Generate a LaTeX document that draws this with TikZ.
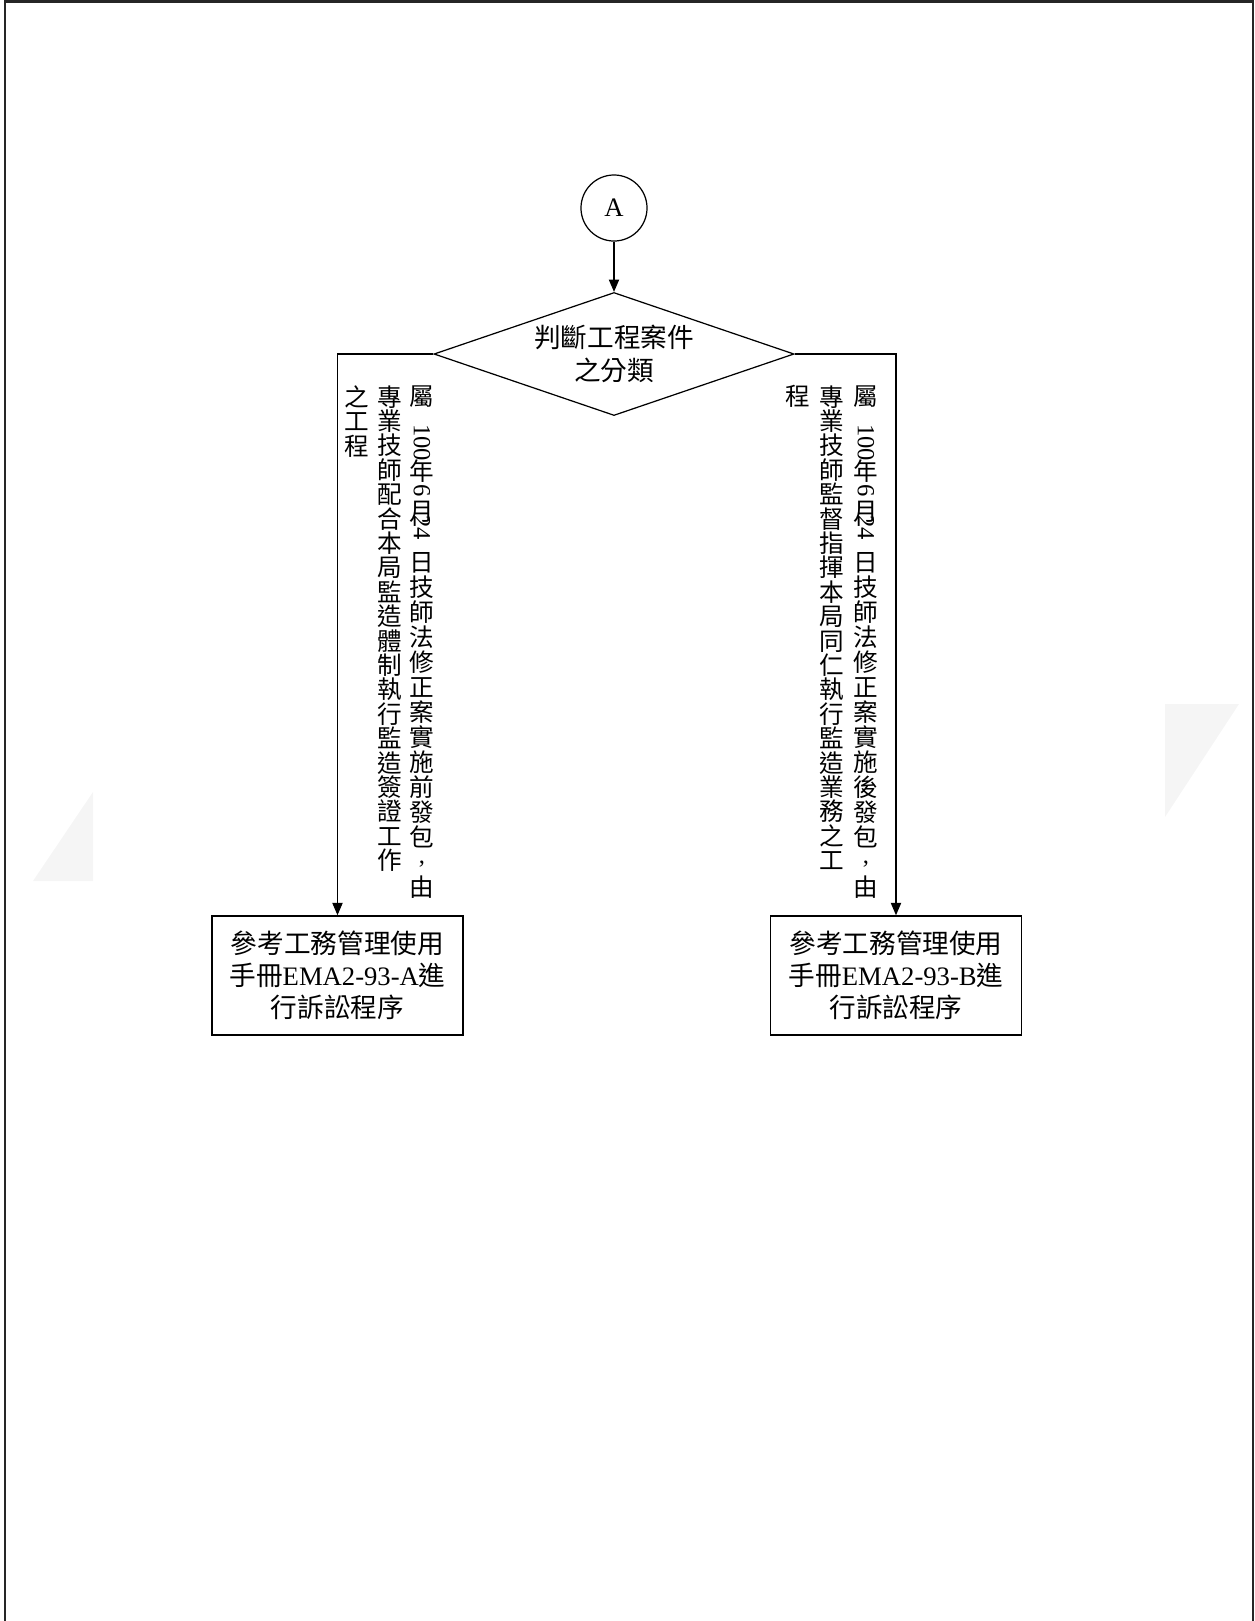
\documentclass[tikz,border=0pt]{standalone}
\usepackage{fontspec}
\setmainfont{Liberation Serif}
\newfontfamily\cjk{Noto Sans CJK TC}
\usepackage{graphicx}
\usetikzlibrary{shapes.geometric}
\usetikzlibrary{arrows.meta}
\newcommand{\rdig}[2]{\raisebox{#1}[0pt][0pt]{\rotatebox{-90}{\rmfamily #2}}}
\newcommand{\vcomma}{\raisebox{4pt}{\rmfamily ,}}

\begin{document}
\begin{tikzpicture}[x=0.48765pt,y=-0.48765pt,
  flow/.style={draw,line width=0.5pt,-{Triangle[length=6pt,width=5pt]}},
  vcol/.style={anchor=north,align=center,inner sep=0pt,font=\cjk\fontsize{12pt}{11.9pt}\selectfont},
  vcolwide/.style={vcol,font=\cjk\fontsize{12pt}{12.2pt}\selectfont},
  casebox/.style={draw,line width=0.8pt,minimum width=122.4pt,minimum height=58pt,inner sep=0pt,align=center,font=\cjk\fontsize{13pt}{15.6pt}\selectfont}]
\useasboundingbox (0,0) rectangle (1255,1621);

% page frame and faint marks
\draw[line width=1pt,black!85] (5,1621) -- (5,1.5) -- (1253,1.5) -- (1253,1621);
\fill[black!4] (33,881) -- (93,792) -- (93,881) -- cycle;
\fill[black!4] (1165,704) -- (1239,704) -- (1165,817) -- cycle;

\node[draw,circle,line width=0.6pt,minimum size=32.2pt,inner sep=0pt,font=\fontsize{13pt}{15pt}\selectfont] (conA) at (614,208) {A};
\node[draw,diamond,aspect=3,line width=0.6pt,minimum width=175.6pt,minimum height=60pt,inner sep=0pt,align=center,font=\cjk\fontsize{13pt}{16pt}\selectfont] (judge) at (614,354) {判斷工程案件\\之分類};

\node[casebox] (caseA) at (337.5,975.5) {參考工務管理使用\\手冊{\rmfamily EMA2-93-A}進\\行訴訟程序};
\node[casebox] (caseB) at (896,975.5) {參考工務管理使用\\手冊{\rmfamily EMA2-93-B}進\\行訴訟程序};

\draw[flow] (conA) -- (judge);
\draw[flow] (judge.west) -| (caseA);
\draw[flow] (judge.east) -| (caseB);

% vertical notes, left branch
\node[vcolwide] (noteA1) at (422,385) {屬\\[10.7pt]\rdig{13.56pt}{100}\\[1.5pt]年\\[-2.5pt]\rdig{7.56pt}{6}\\[-2.4pt]月\\[-3.9pt]\rdig{10.56pt}{24}\\[4.4pt]日\\技\\師\\法\\修\\正\\案\\實\\施\\前\\發\\包\\\vcomma\\由};
\node[vcol] (noteA2) at (390,385) {專\\業\\技\\師\\配\\合\\本\\局\\監\\造\\體\\制\\執\\行\\監\\造\\簽\\證\\工\\作};
\node[vcol] (noteA3) at (357,385) {之\\工\\程};

% vertical notes, right branch
\node[vcolwide] (noteB1) at (866,385) {屬\\[10.7pt]\rdig{13.56pt}{100}\\[1.5pt]年\\[-2.5pt]\rdig{7.56pt}{6}\\[-2.4pt]月\\[-3.9pt]\rdig{10.56pt}{24}\\[4.4pt]日\\技\\師\\法\\修\\正\\案\\實\\施\\後\\發\\包\\\vcomma\\由};
\node[vcol] (noteB2) at (832,385) {專\\業\\技\\師\\監\\督\\指\\揮\\本\\局\\同\\仁\\執\\行\\監\\造\\業\\務\\之\\工};
\node[vcol] (noteB3) at (798,385) {程};
\end{tikzpicture}
\end{document}
